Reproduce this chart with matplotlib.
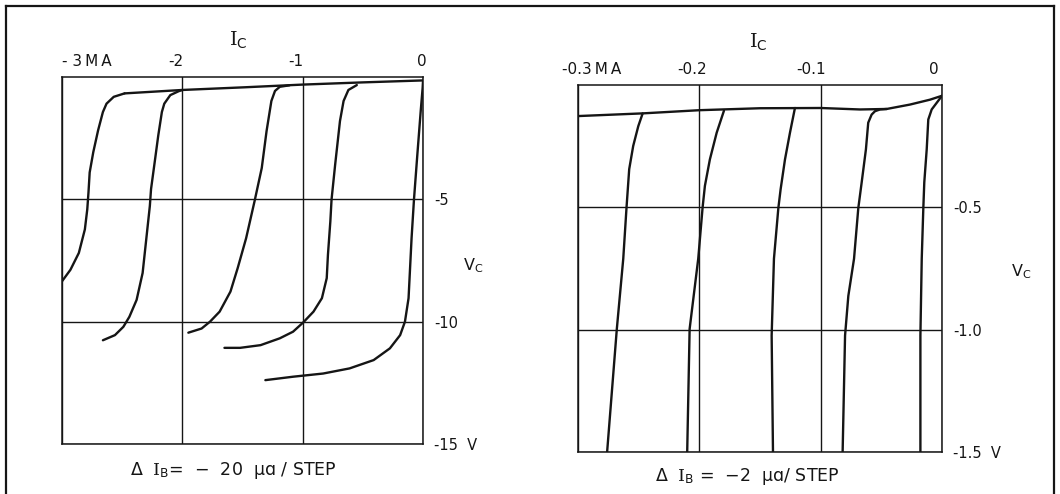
import matplotlib.pyplot as plt
from matplotlib.lines import Line2D

plt.rcParams['font.family'] = 'DejaVu Sans'
plt.rcParams['mathtext.fontset'] = 'dejavuserif'

INK = '#151515'
THIN = '\u2009'

# ---------------- left chart: Ic in mA, Vc in volts ----------------
left_xticks = [-3, -2, -1, 0]
left_xlabels = ['- 3' + THIN + 'M' + THIN + 'A', '-2', '-1', '0']
left_yticks = [-5, -10, -15]
left_ylabels = ['-5', '-10', '-15  V']

left_top_x = [-2.48, -2.0, -1.48, -1.0, -0.5, 0.0]
left_top_y = [-0.67, -0.53, -0.42, -0.31, -0.22, -0.14]

left_c1_x = [-3.0, -2.93, -2.86, -2.81, -2.79, -2.78, -2.77, -2.74, -2.70, -2.66, -2.63, -2.57, -2.48]
left_c1_y = [-8.35, -7.88, -7.19, -6.23, -5.41, -4.72, -3.90, -3.07, -2.18, -1.43, -1.09, -0.81, -0.67]

left_c2_x = [-2.66, -2.56, -2.49, -2.44, -2.38, -2.33, -2.30, -2.27, -2.26, -2.23, -2.20, -2.17,
             -2.15, -2.10, -2.03, -2.0]
left_c2_y = [-10.76, -10.55, -10.21, -9.80, -9.11, -8.01, -6.64, -5.27, -4.58, -3.49, -2.39, -1.43,
             -1.09, -0.74, -0.58, -0.53]

left_c3_x = [-1.95, -1.84, -1.77, -1.69, -1.60, -1.54, -1.47, -1.40, -1.34, -1.30, -1.26, -1.23, -1.19, -1.11]
left_c3_y = [-10.45, -10.28, -10.0, -9.59, -8.77, -7.81, -6.59, -5.08, -3.72, -2.21, -0.98, -0.57, -0.40, -0.34]

left_c4_x = [-1.65, -1.52, -1.35, -1.19, -1.08, -0.995, -0.91, -0.84, -0.80, -0.79, -0.77, -0.76,
             -0.73, -0.69, -0.66, -0.62, -0.55]
left_c4_y = [-11.07, -11.07, -10.96, -10.68, -10.41, -10.03, -9.59, -9.04, -8.22, -7.27, -5.90, -5.01,
             -3.58, -1.80, -0.98, -0.53, -0.33]

left_c5_x = [-1.31, -1.08, -0.83, -0.61, -0.41, -0.275, -0.19, -0.15, -0.12, -0.095, -0.075, -0.047,
             -0.019, -0.003, 0.0]
left_c5_y = [-12.39, -12.25, -12.12, -11.91, -11.57, -11.09, -10.55, -10.0, -9.04, -6.59, -5.01, -3.17,
             -1.39, -0.44, -0.18]

# ---------------- right chart ----------------
right_xticks = [-0.3, -0.2, -0.1, 0]
right_xlabels = ['-0.3' + THIN + 'M' + THIN + 'A', '-0.2', '-0.1', '0']
right_yticks = [-0.5, -1.0, -1.5]
right_ylabels = ['-0.5', '-1.0', '-1.5  V']

right_top_x = [-0.3, -0.2467, -0.2, -0.15, -0.1, -0.0676, -0.0456, -0.0264, -0.0099, 0.0]
right_top_y = [-0.127, -0.116, -0.103, -0.095, -0.094, -0.100, -0.098, -0.080, -0.060, -0.044]

right_c1_x = [-0.2467, -0.2503, -0.2545, -0.2578, -0.260, -0.2627, -0.268, -0.276]
right_c1_y = [-0.116, -0.168, -0.249, -0.344, -0.50, -0.71, -0.997, -1.5]

right_c2_x = [-0.1797, -0.1857, -0.1913, -0.1954, -0.1973, -0.2009, -0.208, -0.210]
right_c2_y = [-0.105, -0.195, -0.304, -0.412, -0.50, -0.71, -0.997, -1.5]

right_c3_x = [-0.1212, -0.1253, -0.1294, -0.1330, -0.1349, -0.1385, -0.1404, -0.1393]
right_c3_y = [-0.094, -0.195, -0.304, -0.426, -0.504, -0.71, -1.024, -1.5]

right_c4_x = [-0.0456, -0.0511, -0.0552, -0.0580, -0.0608, -0.0627, -0.0662, -0.0690, -0.0725,
              -0.0772, -0.0799, -0.0819]
right_c4_y = [-0.098, -0.100, -0.107, -0.121, -0.154, -0.263, -0.398, -0.504, -0.71,
              -0.862, -1.024, -1.5]

right_c5_x = [0.0, -0.0044, -0.0085, -0.0113, -0.0126, -0.0146, -0.0154, -0.0167, -0.0178, -0.0178]
right_c5_y = [-0.044, -0.073, -0.100, -0.141, -0.263, -0.398, -0.504, -0.71, -1.024, -1.5]


def setup(ax, xticks, xlabels, yticks, ylabels, xlim, ylim, label_dx):
    ax.set_xlim(*xlim)
    ax.set_ylim(*ylim)
    ax.set_xticks(xticks)
    ax.set_yticks(yticks)
    ax.set_xticklabels([])
    ax.yaxis.tick_right()
    ax.set_yticklabels(ylabels)
    ax.tick_params(axis='both', length=0)
    ax.tick_params(axis='y', pad=8, labelsize=10.5, labelcolor=INK)
    ax.grid(True, color=INK, linewidth=1.0)
    for s in ax.spines.values():
        s.set_linewidth(1.1)
        s.set_color(INK)
    # top labels for Ic
    for x, lab, (dx, ha) in zip(xticks, xlabels, label_dx):
        ax.annotate(lab, xy=(x, 1), xycoords=('data', 'axes fraction'),
                    xytext=(dx, 6), textcoords='offset points',
                    ha=ha, va='bottom', fontsize=11, color=INK,
                    annotation_clip=False)


def curves(ax, pairs):
    for xs, ys in pairs:
        ax.plot(xs, ys, color=INK, lw=1.7, solid_joinstyle='round', solid_capstyle='round')


fig = plt.figure(figsize=(10.6, 4.94), dpi=100)

axL = fig.add_axes([62 / 1060, 1 - 444 / 494, (423 - 62) / 1060, (444 - 77) / 494])
setup(axL, left_xticks, left_xlabels, left_yticks, left_ylabels, (-3, 0), (-15, 0),
      [(0, 'left'), (-5, 'center'), (-5, 'center'), (-1, 'center')])
curves(axL, [(left_top_x, left_top_y), (left_c1_x, left_c1_y), (left_c2_x, left_c2_y),
             (left_c3_x, left_c3_y), (left_c4_x, left_c4_y), (left_c5_x, left_c5_y)])

axR = fig.add_axes([578 / 1060, 1 - 452 / 494, (942 - 578) / 1060, (452 - 85) / 494])
setup(axR, right_xticks, right_xlabels, right_yticks, right_ylabels, (-0.3, 0), (-1.5, 0),
      [(10, 'center'), (-5, 'center'), (-7, 'center'), (-6, 'center')])
curves(axR, [(right_top_x, right_top_y), (right_c1_x, right_c1_y), (right_c2_x, right_c2_y),
             (right_c3_x, right_c3_y), (right_c4_x, right_c4_y), (right_c5_x, right_c5_y)])

# axis names
fig.text(238 / 1060, 1 - 40 / 494, r'$\mathrm{I}_\mathsf{C}$', fontsize=14, ha='center', va='center', color=INK)
fig.text(758 / 1060, 1 - 42 / 494, r'$\mathrm{I}_\mathsf{C}$', fontsize=14, ha='center', va='center', color=INK)
fig.text(473 / 1060, 1 - 266 / 494, r'V$_\mathregular{C}$', fontsize=11.5, ha='center', va='center', color=INK)
fig.text(1021 / 1060, 1 - 272 / 494, r'V$_\mathregular{C}$', fontsize=11.5, ha='center', va='center', color=INK)

# step notes
fig.text(233 / 1060, 1 - 470 / 494, r'Δ  $\mathrm{I}_\mathsf{B}$=  −  20  μɑ / STEP', fontsize=12.5,
         ha='center', va='center', color=INK)
fig.text(747 / 1060, 1 - 476 / 494, r'Δ  $\mathrm{I}_\mathsf{B}$ =  −2  μɑ/ STEP', fontsize=12.5,
         ha='center', va='center', color=INK)

# outer frame (open at the bottom)
fx0, fx1, fy1 = 6 / 1060, 1054 / 1060, 1 - 6 / 494
for xs, ys in [([fx0, fx0], [0, fy1]), ([fx0, fx1], [fy1, fy1]), ([fx1, fx1], [fy1, 0])]:
    fig.add_artist(Line2D(xs, ys, transform=fig.transFigure, color=INK, lw=1.6))

fig.savefig('out.png', dpi=100)
